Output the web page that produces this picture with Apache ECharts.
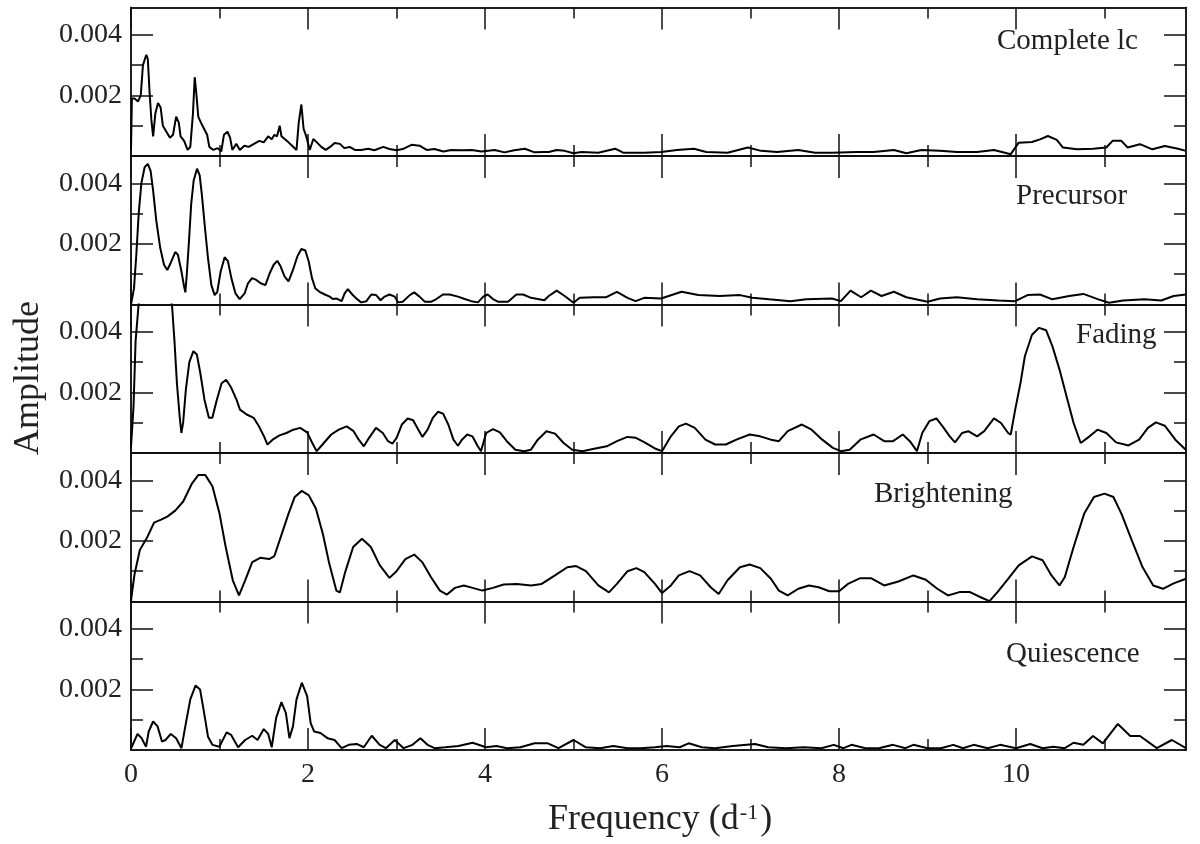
<!DOCTYPE html>
<html>
<head>
<meta charset="utf-8">
<title>Amplitude spectra</title>
<script src="https://cdn.jsdelivr.net/npm/echarts@6/dist/echarts.min.js"></script>
<style>
  html, body { margin: 0; padding: 0; background: #fff; }
  #chart { width: 1200px; height: 844px; }
</style>
</head>
<body>
<div id="chart"></div>
<script>
// [frequency (1/d), amplitude]
const completeLc = [
  [0, 0.0002], [0.01, 0.0019], [0.04, 0.0019], [0.08, 0.0018], [0.11, 0.002], [0.135, 0.003], [0.173, 0.00334],
  [0.19, 0.0032], [0.21, 0.0021], [0.23, 0.0012], [0.25, 0.00065], [0.275, 0.0014], [0.305, 0.00175], [0.335, 0.0016],
  [0.36, 0.001], [0.4, 0.0008], [0.44, 0.0006], [0.475, 0.0007], [0.51, 0.0013], [0.54, 0.0011], [0.56, 0.00065],
  [0.6, 0.0005], [0.64, 0.0002], [0.67, 0.0003], [0.7, 0.0014], [0.72, 0.0026], [0.74, 0.002], [0.76, 0.0013],
  [0.79, 0.0011], [0.825, 0.0009], [0.86, 0.0007], [0.885, 0.0003], [0.93, 0.0002], [0.98, 0.00026], [1.02, 0.00015],
  [1.05, 0.0007], [1.09, 0.0008], [1.12, 0.0006], [1.145, 0.0002], [1.19, 0.0004], [1.23, 0.0002], [1.28, 0.00034],
  [1.33, 0.0003], [1.39, 0.0004], [1.45, 0.0005], [1.5, 0.00045], [1.55, 0.00065], [1.59, 0.00055], [1.62, 0.0007],
  [1.65, 0.00065], [1.68, 0.001], [1.7, 0.00065], [1.74, 0.00055], [1.78, 0.00045], [1.82, 0.00034], [1.87, 0.0002],
  [1.895, 0.0011], [1.925, 0.0017], [1.95, 0.0009], [1.98, 0.00065], [2.02, 0.0002], [2.06, 0.00056], [2.1, 0.00045],
  [2.15, 0.0003], [2.2, 0.0002], [2.25, 0.0003], [2.3, 0.00043], [2.36, 0.0004], [2.41, 0.00026], [2.47, 0.0003],
  [2.53, 0.0002], [2.6, 0.0002], [2.68, 0.00024], [2.75, 0.00019], [2.85, 0.0003], [2.92, 0.00023], [3.0, 0.00019],
  [3.07, 0.00023], [3.17, 0.00037], [3.26, 0.00034], [3.34, 0.0002], [3.43, 0.00023], [3.53, 0.00015], [3.62, 0.0002],
  [3.73, 0.00019], [3.85, 0.0002], [3.96, 0.00015], [4.11, 0.0002], [4.22, 0.00012], [4.33, 0.00019], [4.45, 0.00024],
  [4.56, 0.00012], [4.67, 0.00013], [4.72, 0.00013], [4.81, 0.0002], [4.9, 0.00017], [5.0, 0.00009], [5.09, 0.00013],
  [5.28, 0.00011], [5.47, 0.00024], [5.56, 0.00011], [5.8, 0.00011], [5.99, 0.00013], [6.17, 0.0002], [6.36, 0.00024],
  [6.5, 0.00013], [6.74, 0.00011], [6.97, 0.00028], [7.12, 0.00017], [7.3, 0.00013], [7.54, 0.0002], [7.73, 0.00011],
  [7.92, 0.00011], [8.2, 0.00013], [8.39, 0.00013], [8.62, 0.0002], [8.76, 0.00009], [8.93, 0.0002], [9.14, 0.00017],
  [9.33, 0.00013], [9.56, 0.00013], [9.75, 0.0002], [9.94, 0.00006], [10.03, 0.00044], [10.18, 0.00046], [10.27, 0.00055],
  [10.36, 0.00066], [10.46, 0.00053], [10.53, 0.00028], [10.69, 0.00022], [10.87, 0.00024], [11.02, 0.00028],
  [11.09, 0.0005], [11.19, 0.0005], [11.26, 0.00028], [11.4, 0.00039], [11.54, 0.00022], [11.68, 0.00033],
  [11.83, 0.00024], [11.92, 0.00017]
];

const precursor = [
  [0, 0], [0.034, 0.00053], [0.06, 0.00164], [0.087, 0.003], [0.117, 0.004], [0.154, 0.00453], [0.19, 0.00464],
  [0.222, 0.0044], [0.25, 0.00376], [0.286, 0.00276], [0.33, 0.00187], [0.373, 0.00131], [0.41, 0.00114],
  [0.448, 0.00137], [0.5, 0.00173], [0.53, 0.00164], [0.57, 0.00109], [0.6, 0.00059], [0.614, 0.0004], [0.63, 0.00098],
  [0.655, 0.00209], [0.68, 0.00331], [0.708, 0.00409], [0.746, 0.00448], [0.776, 0.00426], [0.8, 0.00364],
  [0.832, 0.00264], [0.87, 0.00153], [0.908, 0.00064], [0.945, 0.00031], [0.975, 0.00042], [1.013, 0.00109],
  [1.058, 0.00156], [1.096, 0.00142], [1.134, 0.00087], [1.18, 0.00037], [1.228, 0.00018], [1.284, 0.00037],
  [1.322, 0.0007], [1.367, 0.00087], [1.416, 0.00081], [1.465, 0.0007], [1.518, 0.00064], [1.567, 0.00103],
  [1.612, 0.00131], [1.653, 0.00144], [1.69, 0.00126], [1.736, 0.00092], [1.78, 0.00076], [1.83, 0.00114],
  [1.88, 0.00159], [1.925, 0.00183], [1.97, 0.00178], [2.008, 0.00142], [2.045, 0.00087], [2.083, 0.00053],
  [2.13, 0.00042], [2.19, 0.00033], [2.245, 0.00026], [2.28, 0.00018], [2.32, 0.0002], [2.38, 0.00011], [2.414, 0.00037],
  [2.45, 0.00051], [2.5, 0.00033], [2.546, 0.0002], [2.6, 0.00007], [2.66, 0.00011], [2.715, 0.00033], [2.77, 0.00031],
  [2.82, 0.00014], [2.866, 0.00026], [2.92, 0.00033], [2.98, 0.00026], [3.017, 0.00007], [3.07, 0.00009], [3.15, 0.00031],
  [3.2, 0.0004], [3.26, 0.00026], [3.32, 0.00009], [3.39, 0.00009], [3.45, 0.00018], [3.525, 0.00033], [3.6, 0.00033],
  [3.695, 0.00026], [3.77, 0.00018], [3.845, 0.00011], [3.92, 0.00007], [3.98, 0.00026], [4.03, 0.00033], [4.09, 0.00018],
  [4.15, 0.00009], [4.26, 0.00009], [4.354, 0.00033], [4.43, 0.00033], [4.52, 0.00022], [4.67, 0.00014], [4.72, 0.00028],
  [4.81, 0.00046], [4.9, 0.00028], [5.0, 0.00006], [5.07, 0.00022], [5.23, 0.00024], [5.37, 0.00024], [5.49, 0.00042],
  [5.61, 0.00022], [5.7, 0.00011], [5.8, 0.00022], [5.99, 0.0002], [6.22, 0.00042], [6.41, 0.00031], [6.65, 0.00028],
  [6.88, 0.00031], [7.02, 0.00022], [7.21, 0.00017], [7.45, 0.00011], [7.63, 0.00017], [7.92, 0.0002], [8.02, 0.00011],
  [8.13, 0.00046], [8.25, 0.00024], [8.36, 0.00046], [8.48, 0.00028], [8.62, 0.00042], [8.76, 0.00024], [9.0, 0.00009],
  [9.14, 0.0002], [9.33, 0.00024], [9.56, 0.00017], [9.8, 0.00013], [9.99, 0.00011], [10.13, 0.00031], [10.27, 0.00033],
  [10.41, 0.00017], [10.6, 0.00028], [10.76, 0.00035], [10.93, 0.00017], [11.05, 0.00006], [11.21, 0.00013],
  [11.45, 0.00017], [11.64, 0.00013], [11.78, 0.00028], [11.92, 0.00033]
];

// goes off the top of its panel near 0.1-0.45
const fading = [
  [0, 0.0002], [0.028, 0.0015], [0.052, 0.0037], [0.083, 0.0048], [0.13, 0.0062], [0.22, 0.0072], [0.32, 0.0068],
  [0.41, 0.0058], [0.464, 0.00485], [0.491, 0.0037], [0.519, 0.0023], [0.55, 0.0012], [0.569, 0.00066], [0.589, 0.001],
  [0.62, 0.0021], [0.659, 0.003], [0.705, 0.00336], [0.744, 0.00325], [0.783, 0.00264], [0.83, 0.00176], [0.88, 0.00116],
  [0.919, 0.00116], [0.97, 0.00176], [1.024, 0.0023], [1.075, 0.00242], [1.133, 0.00215], [1.192, 0.00176],
  [1.231, 0.00143], [1.308, 0.00127], [1.386, 0.00116], [1.445, 0.00088], [1.503, 0.00055], [1.542, 0.00028],
  [1.6, 0.00044], [1.678, 0.00058], [1.756, 0.00066], [1.834, 0.00077], [1.912, 0.00083], [1.99, 0.00068],
  [2.048, 0.00033], [2.098, 0.00006], [2.164, 0.00028], [2.262, 0.00061], [2.347, 0.00077], [2.437, 0.00088],
  [2.515, 0.00072], [2.573, 0.00044], [2.631, 0.00022], [2.69, 0.0005], [2.768, 0.00083], [2.845, 0.00066],
  [2.904, 0.00039], [2.954, 0.00031], [3.001, 0.0005], [3.06, 0.00094], [3.126, 0.00114], [3.188, 0.00108],
  [3.234, 0.00083], [3.293, 0.00053], [3.351, 0.00077], [3.41, 0.00116], [3.468, 0.00136], [3.526, 0.0013],
  [3.585, 0.00094], [3.643, 0.00044], [3.694, 0.00024], [3.74, 0.00044], [3.799, 0.00061], [3.857, 0.00055],
  [3.915, 0.00024], [3.954, 0.00006], [4.013, 0.00066], [4.09, 0.00079], [4.168, 0.00068], [4.246, 0.00039],
  [4.343, 0.00011], [4.441, 0.00006], [4.519, 0.00011], [4.596, 0.00044], [4.694, 0.00072], [4.791, 0.00064],
  [4.888, 0.00033], [4.985, 0.00011], [5.102, 0.00006], [5.219, 0.00013], [5.375, 0.00022], [5.491, 0.00039],
  [5.608, 0.00053], [5.705, 0.0005], [5.803, 0.00035], [5.919, 0.00015], [6.0, 0.00006], [6.1, 0.00055], [6.19, 0.00088],
  [6.27, 0.00097], [6.37, 0.00083], [6.49, 0.00044], [6.6, 0.00028], [6.72, 0.00028], [6.84, 0.00044], [6.99, 0.00061],
  [7.11, 0.00055], [7.23, 0.00044], [7.32, 0.00039], [7.42, 0.00072], [7.58, 0.00094], [7.69, 0.00077], [7.81, 0.00044],
  [7.93, 0.00017], [8.02, 0.00006], [8.12, 0.00011], [8.24, 0.00044], [8.39, 0.00061], [8.51, 0.00039], [8.61, 0.00039],
  [8.72, 0.00061], [8.8, 0.00039], [8.88, 0.00006], [8.94, 0.00066], [9.02, 0.00105], [9.1, 0.00114], [9.17, 0.00088],
  [9.25, 0.00055], [9.31, 0.00035], [9.39, 0.00066], [9.46, 0.00072], [9.56, 0.00055], [9.64, 0.00072], [9.75, 0.00114],
  [9.83, 0.00099], [9.91, 0.00066], [9.94, 0.00061], [9.99, 0.00143], [10.05, 0.00231], [10.1, 0.0032], [10.18, 0.0039],
  [10.26, 0.00413], [10.34, 0.00405], [10.41, 0.00353], [10.49, 0.00276], [10.57, 0.00187], [10.65, 0.00099],
  [10.73, 0.00033], [10.83, 0.00055], [10.92, 0.00077], [11.02, 0.00066], [11.13, 0.00035], [11.27, 0.00025],
  [11.39, 0.00044], [11.49, 0.00083], [11.58, 0.00101], [11.68, 0.0009], [11.8, 0.00044], [11.92, 0.0001]
];

const brightening = [
  [0, 0], [0.005, 0.00014], [0.04, 0.0009], [0.1, 0.0017], [0.18, 0.0021], [0.26, 0.0026], [0.34, 0.0027], [0.41, 0.0028],
  [0.5, 0.003], [0.59, 0.0033], [0.69, 0.0039], [0.76, 0.00417], [0.84, 0.00417], [0.92, 0.0038], [1.0, 0.0029],
  [1.07, 0.0018], [1.15, 0.0007], [1.22, 0.0002], [1.29, 0.0007], [1.37, 0.0013], [1.46, 0.00144], [1.56, 0.0014],
  [1.62, 0.0015], [1.7, 0.0022], [1.78, 0.0029], [1.85, 0.00345], [1.93, 0.00365], [2.01, 0.0035], [2.09, 0.00306],
  [2.17, 0.0022], [2.24, 0.00125], [2.32, 0.00036], [2.36, 0.0003], [2.42, 0.00097], [2.51, 0.0018], [2.61, 0.00207],
  [2.71, 0.0018], [2.81, 0.0012], [2.92, 0.00078], [3.0, 0.001], [3.1, 0.0014], [3.2, 0.00155], [3.29, 0.0013],
  [3.39, 0.0008], [3.49, 0.00036], [3.57, 0.00023], [3.66, 0.00045], [3.76, 0.00053], [3.86, 0.00045], [3.97, 0.00036],
  [4.09, 0.00045], [4.21, 0.00056], [4.36, 0.00058], [4.52, 0.00053], [4.64, 0.00058], [4.79, 0.00086], [4.93, 0.00113],
  [5.03, 0.00117], [5.14, 0.001], [5.28, 0.00053], [5.4, 0.0003], [5.49, 0.00058], [5.61, 0.001], [5.71, 0.0011],
  [5.8, 0.00097], [5.92, 0.00058], [6.0, 0.00028], [6.1, 0.00053], [6.19, 0.00086], [6.31, 0.001], [6.43, 0.00086],
  [6.55, 0.00047], [6.64, 0.00025], [6.74, 0.0007], [6.88, 0.00113], [6.99, 0.00122], [7.11, 0.0011], [7.23, 0.00075],
  [7.32, 0.00036], [7.42, 0.0002], [7.54, 0.00042], [7.66, 0.00053], [7.77, 0.00047], [7.89, 0.00034], [8.0, 0.00034],
  [8.1, 0.00058], [8.24, 0.00077], [8.36, 0.00077], [8.51, 0.00053], [8.67, 0.00066], [8.84, 0.00086], [8.98, 0.00072],
  [9.11, 0.00042], [9.23, 0.0002], [9.36, 0.00031], [9.48, 0.00031], [9.6, 0.00014], [9.7, 0.00001], [9.79, 0.00031],
  [9.91, 0.00075], [10.03, 0.00119], [10.18, 0.00149], [10.3, 0.00136], [10.4, 0.00086], [10.49, 0.00053],
  [10.55, 0.0008], [10.65, 0.0018], [10.77, 0.0029], [10.88, 0.00345], [11.0, 0.00356], [11.1, 0.00345], [11.19, 0.0029],
  [11.31, 0.002], [11.43, 0.00113], [11.55, 0.00053], [11.66, 0.00042], [11.78, 0.0006], [11.92, 0.00075]
];

const quiescence = [
  [0, 0.00005], [0.074, 0.00053], [0.12, 0.00039], [0.17, 0.00011], [0.2, 0.00061], [0.25, 0.00094], [0.3, 0.00078],
  [0.35, 0.00028], [0.39, 0.00033], [0.45, 0.00053], [0.51, 0.00039], [0.57, 0.00006], [0.61, 0.00072], [0.67, 0.00167],
  [0.73, 0.00213], [0.78, 0.002], [0.82, 0.00133], [0.87, 0.00044], [0.92, 0.00017], [1.0, 0.00011], [1.08, 0.00058],
  [1.13, 0.0005], [1.21, 0.00009], [1.29, 0.00033], [1.37, 0.00047], [1.43, 0.00033], [1.5, 0.00069], [1.55, 0.00053],
  [1.59, 0.00009], [1.64, 0.00106], [1.7, 0.00158], [1.75, 0.00122], [1.79, 0.00039], [1.83, 0.00078], [1.87, 0.00167],
  [1.93, 0.00222], [1.99, 0.00178], [2.03, 0.00089], [2.07, 0.00061], [2.14, 0.00056], [2.22, 0.00039], [2.3, 0.00033],
  [2.38, 0.00006], [2.46, 0.00017], [2.55, 0.0002], [2.63, 0.00009], [2.72, 0.00047], [2.81, 0.00017], [2.88, 0.00006],
  [2.98, 0.00033], [3.08, 0.00006], [3.18, 0.00017], [3.27, 0.00039], [3.35, 0.00017], [3.43, 0.00006], [3.55, 0.00009],
  [3.7, 0.00013], [3.86, 0.00024], [4.01, 0.00009], [4.13, 0.00013], [4.25, 0.00006], [4.4, 0.00009], [4.56, 0.00022],
  [4.71, 0.00022], [4.83, 0.00006], [5.0, 0.00033], [5.14, 0.00009], [5.3, 0.00006], [5.45, 0.00013], [5.61, 0.00006],
  [5.76, 0.00006], [5.92, 0.00009], [6.05, 0.00013], [6.2, 0.00009], [6.3, 0.00022], [6.45, 0.00009], [6.6, 0.00006],
  [6.8, 0.00013], [7.05, 0.0002], [7.2, 0.00009], [7.4, 0.00006], [7.6, 0.00009], [7.8, 0.00006], [7.94, 0.00017],
  [8.05, 0.00006], [8.14, 0.00017], [8.3, 0.00006], [8.45, 0.00006], [8.61, 0.00017], [8.75, 0.00006], [8.84, 0.00017],
  [9.0, 0.00006], [9.15, 0.00006], [9.29, 0.00017], [9.4, 0.00006], [9.52, 0.00017], [9.68, 0.00006], [9.82, 0.00017],
  [10.0, 0.00006], [10.16, 0.0002], [10.3, 0.00006], [10.42, 0.00011], [10.55, 0.00006], [10.65, 0.00024],
  [10.76, 0.00017], [10.87, 0.00046], [10.98, 0.00022], [11.15, 0.00086], [11.29, 0.00046], [11.4, 0.00046],
  [11.59, 0.00006], [11.76, 0.00033], [11.92, 0.00006]
];

const panelData = [completeLc, precursor, fading, brightening, quiescence];
const panelNames = ['Complete lc', 'Precursor', 'Fading', 'Brightening', 'Quiescence'];
const xMajorTicks = [0, 2, 4, 6, 8, 10];
const xMinorTicks = [1, 3, 5, 7, 9, 11];
const yMajorTicks = [0.002, 0.004];
const yMinorTicks = [0.001, 0.003];

const X_MAX = 11.92;
const Y_MAX = 0.0049;
const PANEL_TOP = 7.5;
const PANEL_H = 148.5;
const SERIF = '"Liberation Serif", "DejaVu Serif", serif';
const INK = '#111';

// where each panel's name sits (left x, middle y)
const namePos = [[997, 44], [1016, 199], [1076, 338], [874, 497], [1006, 657]];

const chart = echarts.init(document.getElementById('chart'));

const grid = [], xAxis = [], yAxis = [], series = [], graphic = [];
const line = { color: INK, width: 1.5 };

panelData.forEach((data, i) => {
  const isLast = i === panelData.length - 1;
  grid.push({ left: 131, right: 14, top: PANEL_TOP + i * PANEL_H, height: PANEL_H });

  // 4 x axes: bottom major/minor, top major/minor (all ticks point inwards)
  [['bottom', xMajorTicks, 22, isLast], ['bottom', xMinorTicks, 11, false],
   ['top', xMajorTicks, 22, false], ['top', xMinorTicks, 11, false]].forEach(([pos, ticks, len, label]) => {
    xAxis.push({
      type: 'value', gridIndex: i, position: pos, min: 0, max: X_MAX,
      axisLine: { show: true, onZero: false, lineStyle: line },
      axisTick: { show: true, inside: true, length: len, customValues: ticks, lineStyle: line },
      axisLabel: { show: label, customValues: xMajorTicks, margin: 11, color: '#222',
        fontFamily: SERIF, fontSize: 28 },
      splitLine: { show: false }
    });
  });

  // 4 y axes: left major/minor, right major/minor
  [['left', yMajorTicks, 22, true], ['left', yMinorTicks, 12, false],
   ['right', yMajorTicks, 22, false], ['right', yMinorTicks, 12, false]].forEach(([pos, ticks, len, label]) => {
    yAxis.push({
      type: 'value', gridIndex: i, position: pos, min: 0, max: Y_MAX,
      axisLine: { show: true, onZero: false, lineStyle: line },
      axisTick: { show: true, inside: true, length: len, customValues: ticks, lineStyle: line },
      axisLabel: { show: label, customValues: yMajorTicks, margin: 9, color: '#222',
        fontFamily: SERIF, fontSize: 28, formatter: v => v.toFixed(3) },
      splitLine: { show: false }
    });
  });

  series.push({
    type: 'line', name: panelNames[i], xAxisIndex: 4 * i, yAxisIndex: 4 * i,
    data: data, symbol: 'none', clip: true, silent: true,
    lineStyle: { color: '#000', width: 2 }
  });

  graphic.push({
    type: 'text', left: namePos[i][0], top: namePos[i][1] - 17,
    style: { text: panelNames[i], font: '29px ' + SERIF, fill: '#222' }
  });
});

// axis titles
graphic.push({
  type: 'text', x: 29, y: 378, rotation: Math.PI / 2,
  style: { text: 'Amplitude', font: '36px ' + SERIF, fill: '#222', align: 'center', verticalAlign: 'middle' }
});
graphic.push({
  type: 'text', x: 660, y: 820,
  style: {
    text: 'Frequency (d{sup|-1})', font: '36px ' + SERIF, fill: '#222', align: 'center', verticalAlign: 'middle',
    rich: { sup: { font: '22px ' + SERIF, fill: '#222', verticalAlign: 'top', padding: [0, 2, 14, 1] } }
  }
});

chart.setOption({
  animation: false,
  backgroundColor: '#fff',
  grid: grid,
  xAxis: xAxis,
  yAxis: yAxis,
  series: series,
  graphic: graphic
});
</script>
</body>
</html>
